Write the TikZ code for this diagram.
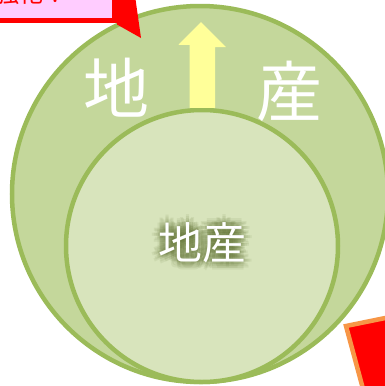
\documentclass[tikz,border=0pt]{standalone}
\usepackage{fontspec}
\usetikzlibrary{calc}
\newfontfamily\jp{Noto Sans CJK JP}
\definecolor{olivefill}{HTML}{C4D79B}
\definecolor{olivepale}{HTML}{D8E4BC}
\definecolor{oliveline}{HTML}{9BBB59}
\definecolor{oliveglow}{HTML}{5E7030}
\definecolor{calloutpink}{HTML}{FFCCFF}
\definecolor{arrowyellow}{HTML}{FFFF99}
\definecolor{edgeorange}{HTML}{F79646}
\begin{document}
\begin{tikzpicture}[
    x=1pt, y=-1pt,
    ring/.style={
        circle,
        draw=oliveline,
        line width=4.5pt,
        inner sep=0pt
    },
    bigchar/.style={
        text=white,
        font=\jp\fontsize{66}{66}\selectfont
    },
    smallword/.style={
        font=\jp\fontsize{44}{44}\selectfont
    }
]
\useasboundingbox (0,0) rectangle (385,386);
\clip (0,0) rectangle (385,386);

% Circles
\node[ring, fill=olivefill, minimum size=376pt] (outer) at (200,194) {};
\node[ring, fill=olivepale, minimum size=272pt] (inner) at (202,246) {};

% Yellow arrow
\coordinate (stem) at (inner.north);
\fill[arrowyellow] ([xshift=-12.5pt]stem) -- ++(0,-63) -- ++(-11,0) -- (201,22)
    -- (226,47) -- ++(-11,0) -- ([xshift=13pt]stem) -- cycle;

% Outer labels
\node[bigchar] (chi) at (116,88) {地};
\node[bigchar] (san) at (289,91) {産};

% Inner label with glow
\foreach \r in {2,4,6,8}
    \foreach \a in {0,45,...,315}
        \node[smallword, text=oliveglow, opacity=0.09] at ($(202,243)+(\a:\r)$) {地産};
\node[smallword, text=white] (word) at (202,243) {地産};

% Callout top left
\node[draw=red, line width=5pt, fill=calloutpink, minimum width=125pt,
      minimum height=50pt, inner sep=0pt] (callout) at (52,-5) {};
\node[text=red, font=\jp\fontsize{24}{24}\selectfont, anchor=west] (calltext) at (-8,-7) {強化！};
\fill[red] (callout.north east) -- ++(14,0) -- (141,38) -- ([yshift=-2pt]callout.east |- callout.south) -- cycle;

% Callout bottom right
\coordinate (corner) at (346,326);
\filldraw[fill=red, draw=edgeorange, line width=4.5pt] (corner) -- (400,315) -- (420,400) -- (366,400) -- cycle;

\end{tikzpicture}
\end{document}
